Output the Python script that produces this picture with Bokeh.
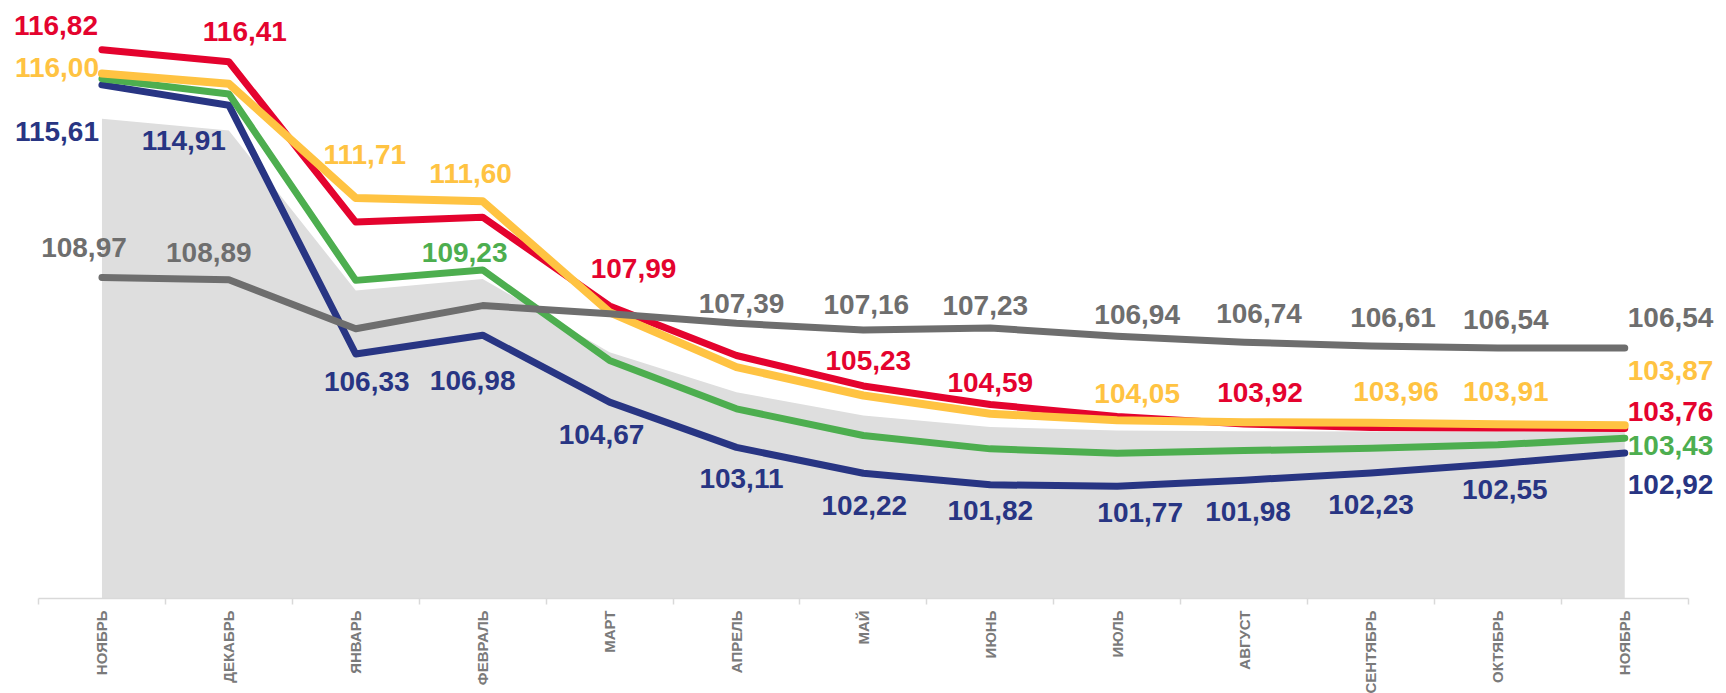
from bokeh.plotting import figure
from bokeh.models import Range1d, FixedTicker
from bokeh.core.properties import value
from bokeh.embed import file_html
from bokeh.resources import INLINE

# ---- data ----
months = ["НОЯБРЬ", "ДЕКАБРЬ", "ЯНВАРЬ", "ФЕВРАЛЬ", "МАРТ", "АПРЕЛЬ", "МАЙ",
          "ИЮНЬ", "ИЮЛЬ", "АВГУСТ", "СЕНТЯБРЬ", "ОКТЯБРЬ", "НОЯБРЬ"]
red = [116.82, 116.41, 110.88, 111.05, 107.99, 106.28, 105.23, 104.59, 104.18, 103.92, 103.80, 103.78, 103.76]
yellow = [116.00, 115.65, 111.71, 111.60, 107.77, 105.88, 104.90, 104.27, 104.05, 103.98, 103.96, 103.91, 103.87]
green = [115.82, 115.30, 108.87, 109.23, 106.11, 104.44, 103.52, 103.06, 102.91, 103.00, 103.08, 103.20, 103.43]
blue = [115.61, 114.91, 106.33, 106.98, 104.67, 103.11, 102.22, 101.82, 101.77, 101.98, 102.23, 102.55, 102.92]
gray = [108.97, 108.89, 107.20, 108.00, 107.72, 107.39, 107.16, 107.23, 106.94, 106.74, 106.61, 106.54, 106.54]
area = [114.44, 114.04, 108.52, 108.92, 106.39, 105.01, 104.21, 103.81, 103.69, 103.67, 103.66, 103.66, 103.66]

# which points carry a value label
red_lab = [0, 1, 4, 6, 7, 9]
yellow_lab = [0, 2, 3, 8, 10, 11]
green_lab = [3]
blue_lab = list(range(12))
gray_lab = [0, 1, 5, 6, 7, 8, 9, 10, 11]

# label offsets in screen pixels (dx, dy; dy positive = down)
red_off = {0: (-46, -24), 1: (16, -30), 4: (24, -37), 6: (5, -25), 7: (0, -22), 9: (16, -31)}
yellow_off = {0: (-45, -6), 2: (9, -44), 3: (-12, -28), 8: (20, -27), 10: (25, -31), 11: (8, -33)}
green_off = {3: (-18, -17)}
blue_off = {0: (-45, 47), 1: (-45, 35), 2: (11, 27), 3: (-10, 45), 4: (-8, 32), 5: (5, 31),
            6: (1, 32), 7: (0, 26), 8: (23, 26), 9: (4, 31), 10: (0, 32), 11: (7, 26)}
gray_off = {0: (-18, -30), 1: (-20, -27), 5: (5, -20), 6: (3, -25), 7: (-5, -22), 8: (20, -22),
            9: (15, -29), 10: (22, -28), 11: (8, -28)}
# end labels (left aligned, right of last point)
end_off = {"gray": -30, "yellow": -55, "red": -17, "green": 7, "blue": 32}

C_RED = "#E4032E"
C_YEL = "#FFC342"
C_GRN = "#4DAE4F"
C_BLU = "#283583"
C_GRY = "#6E6E6E"
C_AREA = "#DEDEDE"

n = len(months)
idx = list(range(n))

PX_PER_CAT = 126.9
PX_PER_UNIT = 29.0
FRAME_W = 1710
FRAME_H = 590
y0 = 97.9
x0 = -0.5 - 30 / PX_PER_CAT

p = figure(frame_width=FRAME_W, frame_height=FRAME_H,
           x_range=Range1d(x0, x0 + FRAME_W / PX_PER_CAT),
           y_range=Range1d(y0, y0 + FRAME_H / PX_PER_UNIT),
           output_backend="svg", toolbar_location=None,
           min_border_left=8, min_border_right=0, min_border_top=8, min_border_bottom=0)
p.outline_line_color = None
p.grid.visible = False
p.yaxis.visible = False
p.background_fill_color = "white"

p.varea(x=idx, y1=[y0] * n, y2=area, color=C_AREA)

for ser, col, lw in [(blue, C_BLU, 7), (green, C_GRN, 7), (red, C_RED, 7), (yellow, C_YEL, 8), (gray, C_GRY, 7)]:
    p.line(idx, ser, line_color=col, line_width=lw, line_cap="round", line_join="round")

FONT = value("Liberation Sans")
FS = "28px"


def fmt(v):
    return f"{v:.2f}".replace(".", ",")


def add_labels(ser, labs, offs, col):
    p.text(x=labs, y=[ser[i] for i in labs], text=[fmt(ser[i]) for i in labs],
           x_offset=[offs[i][0] for i in labs], y_offset=[offs[i][1] for i in labs],
           text_align="center", text_baseline="middle", text_font=FONT,
           text_font_style="bold", text_font_size=FS, text_color=col)


add_labels(red, red_lab, red_off, C_RED)
add_labels(yellow, yellow_lab, yellow_off, C_YEL)
add_labels(green, green_lab, green_off, C_GRN)
add_labels(blue, blue_lab, blue_off, C_BLU)
add_labels(gray, gray_lab, gray_off, C_GRY)

last = n - 1
for ser, key, col in [(gray, "gray", C_GRY), (yellow, "yellow", C_YEL), (red, "red", C_RED),
                      (green, "green", C_GRN), (blue, "blue", C_BLU)]:
    p.text(x=[last], y=[ser[last]], text=[fmt(ser[last])], x_offset=[3], y_offset=[end_off[key]],
           text_align="left", text_baseline="middle", text_font=FONT,
           text_font_style="bold", text_font_size=FS, text_color=col)

ax = p.xaxis[0]
ax.ticker = FixedTicker(ticks=idx, minor_ticks=[i - 0.5 for i in range(n + 1)])
ax.major_label_overrides = {i: m for i, m in enumerate(months)}
ax.major_label_orientation = 3.14159265 / 2
ax.major_label_text_font = "Liberation Sans"
ax.major_label_text_font_style = "bold"
ax.major_label_text_font_size = "15px"
ax.major_label_text_color = "#7A7A7A"
ax.major_label_standoff = 6
ax.bounds = (-0.5, n - 0.5)
ax.axis_line_color = "#D9D9D9"
ax.axis_line_width = 1.5
ax.major_tick_line_color = None
ax.minor_tick_line_color = "#D9D9D9"
ax.minor_tick_line_width = 1.5
ax.minor_tick_in = 0
ax.minor_tick_out = 6

open("out.html", "w").write(file_html(p, INLINE))
